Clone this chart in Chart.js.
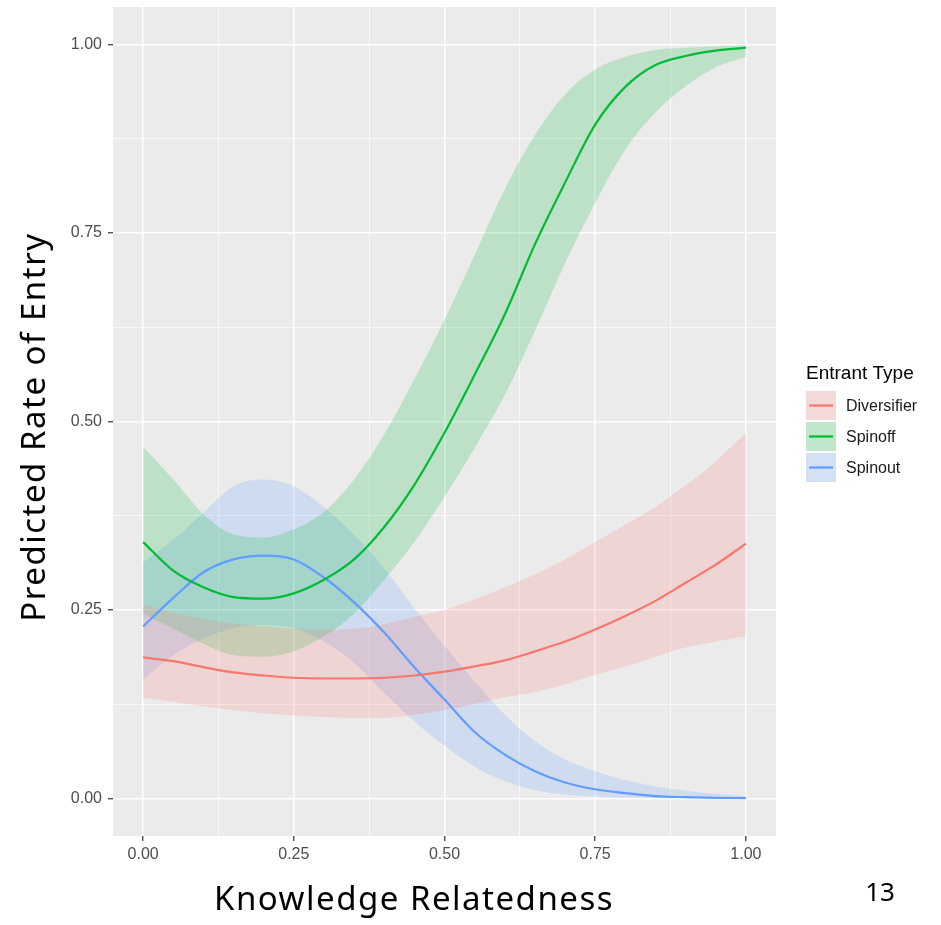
<!DOCTYPE html>
<html>
<head>
<meta charset="utf-8">
<script src="https://cdn.jsdelivr.net/npm/chart.js@4/dist/chart.umd.min.js"></script>
<style>
  html, body { margin: 0; padding: 0; background: #ffffff; }
  #wrap { width: 941px; height: 925px; position: relative; }
</style>
</head>
<body>
<div id="wrap"><canvas id="c" width="941" height="925"></canvas></div>
<script>
// ---- data ----
const relatedness = [0, 0.05, 0.1, 0.15, 0.2, 0.25, 0.3, 0.35, 0.4, 0.45, 0.5, 0.55, 0.6, 0.65, 0.7, 0.75, 0.8, 0.85, 0.9, 0.95, 1.0];

const diversifier     = [0.187,0.182,0.174,0.167,0.163,0.160,0.159,0.159,0.160,0.163,0.168,0.175,0.183,0.195,0.208,0.224,0.242,0.262,0.286,0.310,0.338];
const diversifierHigh = [0.257,0.247,0.238,0.232,0.228,0.225,0.224,0.225,0.231,0.241,0.250,0.264,0.280,0.297,0.317,0.340,0.363,0.387,0.415,0.447,0.485];
const diversifierLow  = [0.133,0.128,0.122,0.117,0.113,0.110,0.108,0.107,0.107,0.111,0.117,0.125,0.134,0.141,0.151,0.164,0.175,0.188,0.200,0.208,0.215];

const spinoff     = [0.340,0.302,0.280,0.267,0.265,0.272,0.290,0.317,0.360,0.416,0.485,0.562,0.642,0.735,0.817,0.894,0.944,0.973,0.985,0.992,0.996];
const spinoffHigh = [0.466,0.423,0.377,0.350,0.346,0.357,0.380,0.423,0.483,0.556,0.635,0.721,0.808,0.880,0.934,0.967,0.984,0.993,0.996,0.998,0.999];
const spinoffLow  = [0.245,0.225,0.205,0.190,0.188,0.195,0.215,0.245,0.290,0.340,0.400,0.465,0.535,0.620,0.710,0.790,0.861,0.910,0.945,0.970,0.984];

const spinout     = [0.228,0.266,0.300,0.317,0.322,0.317,0.293,0.260,0.220,0.174,0.131,0.088,0.058,0.036,0.021,0.012,0.007,0.003,0.0015,0.0007,0.0003];
const spinoutHigh = [0.313,0.343,0.379,0.414,0.423,0.414,0.386,0.350,0.305,0.252,0.202,0.155,0.111,0.076,0.052,0.036,0.024,0.016,0.010,0.006,0.003];
const spinoutLow  = [0.158,0.190,0.212,0.226,0.230,0.226,0.208,0.180,0.140,0.102,0.070,0.042,0.023,0.011,0.005,0.0025,0.001,0.0005,0.0002,0.0001,0.00005];

const tickValues = [0, 0.125, 0.25, 0.375, 0.5, 0.625, 0.75, 0.875, 1.0];
const majorTicks = [0, 0.25, 0.5, 0.75, 1.0];
const tickLabels = ['0.00', '0.25', '0.50', '0.75', '1.00'];

const seriesNames = ['Diversifier', 'Spinoff', 'Spinout'];
const seriesColors = ['#F8766D', '#00BA38', '#619CFF'];
const bandColors = ['rgba(248,118,109,0.2)', 'rgba(0,186,56,0.2)', 'rgba(97,156,255,0.2)'];

const legendTitle = 'Entrant Type';
const xTitle = 'Knowledge Relatedness';
const yTitle = 'Predicted Rate of Entry';
const pageNumber = '13';

// ---- build datasets ----
function pts(arr) { return relatedness.map((x, i) => ({ x: x, y: arr[i] })); }
const means = [diversifier, spinoff, spinout];
const highs = [diversifierHigh, spinoffHigh, spinoutHigh];
const lows = [diversifierLow, spinoffLow, spinoutLow];

const datasets = [];
for (let s = 0; s < 3; s++) {
  datasets.push({ label: seriesNames[s] + ' high', data: pts(highs[s]), borderWidth: 0, pointRadius: 0,
    backgroundColor: bandColors[s], borderColor: 'rgba(0,0,0,0)', fill: '+1', cubicInterpolationMode: 'monotone' });
  datasets.push({ label: seriesNames[s] + ' low', data: pts(lows[s]), borderWidth: 0, pointRadius: 0,
    borderColor: 'rgba(0,0,0,0)', fill: false, cubicInterpolationMode: 'monotone' });
}
for (let s = 0; s < 3; s++) {
  datasets.push({ label: seriesNames[s], data: pts(means[s]), borderWidth: 2.2, pointRadius: 0,
    borderColor: seriesColors[s], fill: false, cubicInterpolationMode: 'monotone' });
}

const isMajor = v => majorTicks.some(m => Math.abs(m - v) < 1e-9);
const labelFor = v => { const i = majorTicks.findIndex(m => Math.abs(m - v) < 1e-9); return i >= 0 ? tickLabels[i] : ''; };

const panelPlugin = {
  id: 'panel',
  beforeDraw(chart) {
    const a = chart.chartArea, ctx = chart.ctx;
    ctx.save();
    ctx.fillStyle = '#EBEBEB';
    ctx.fillRect(a.left, a.top, a.right - a.left, a.bottom - a.top);
    ctx.restore();
  },
  afterDraw(chart) {
    const ctx = chart.ctx;
    ctx.save();
    // axis titles
    ctx.fillStyle = '#000';
    ctx.font = '33px "Noto Sans"';
    try { ctx.letterSpacing = '1.5px'; } catch (e) {}
    ctx.textBaseline = 'alphabetic';
    ctx.textAlign = 'center';
    ctx.fillText(xTitle, 414, 910);
    ctx.save();
    ctx.translate(45, 427);
    ctx.rotate(-Math.PI / 2);
    ctx.fillText(yTitle, 0, 0);
    ctx.restore();
    try { ctx.letterSpacing = '0px'; } catch (e) {}
    ctx.font = '26px "Noto Sans"';
    ctx.fillText(pageNumber, 880, 901);
    // legend
    ctx.textAlign = 'left';
    ctx.textBaseline = 'middle';
    ctx.font = '19px "Liberation Sans"';
    ctx.fillStyle = '#000';
    ctx.fillText(legendTitle, 806, 374);
    ctx.font = '16px "Liberation Sans"';
    for (let s = 0; s < 3; s++) {
      const top = 391 + s * 31, h = 29;
      ctx.fillStyle = '#F2F2F2';
      ctx.fillRect(806, top, 30, h);
      ctx.fillStyle = bandColors[s];
      ctx.fillRect(806, top, 30, h);
      ctx.strokeStyle = seriesColors[s];
      ctx.lineWidth = 2.2;
      ctx.beginPath();
      ctx.moveTo(809, top + h / 2);
      ctx.lineTo(833, top + h / 2);
      ctx.stroke();
      ctx.fillStyle = '#1a1a1a';
      ctx.fillText(seriesNames[s], 846, top + h / 2 + 1);
    }
    ctx.restore();
  }
};

const gridOpts = {
  color: '#FFFFFF',
  lineWidth: c => (c.tick && isMajor(c.tick.value)) ? 1.5 : 0.7,
  tickColor: c => (c.tick && isMajor(c.tick.value)) ? '#333333' : 'rgba(0,0,0,0)',
  tickLength: 5,
  tickWidth: 1.2,
  drawTicks: true,
  drawOnChartArea: true
};

new Chart(document.getElementById('c'), {
  type: 'line',
  data: { datasets: datasets },
  plugins: [panelPlugin],
  options: {
    responsive: false,
    animation: false,
    layout: { padding: { top: 7, right: 165, bottom: 0, left: 0 } },
    plugins: {
      legend: { display: false },
      tooltip: { enabled: false },
      filler: { drawTime: 'beforeDatasetsDraw', propagate: false }
    },
    scales: {
      x: {
        type: 'linear', min: -0.05, max: 1.05,
        afterBuildTicks: sc => { sc.ticks = tickValues.map(v => ({ value: v })); },
        afterFit: sc => { sc.height = 89; sc.paddingLeft = 0; sc.paddingRight = 0; },
        grid: gridOpts,
        border: { display: false },
        ticks: { autoSkip: false, maxRotation: 0, padding: 4, color: '#4D4D4D',
          font: { family: '"Liberation Sans"', size: 16 }, callback: v => labelFor(v) }
      },
      y: {
        type: 'linear', min: -0.05, max: 1.05,
        afterBuildTicks: sc => { sc.ticks = tickValues.map(v => ({ value: v })); },
        afterFit: sc => { sc.width = 113; sc.paddingTop = 0; sc.paddingBottom = 0; },
        grid: gridOpts,
        border: { display: false },
        ticks: { autoSkip: false, padding: 6, color: '#4D4D4D',
          font: { family: '"Liberation Sans"', size: 16 }, callback: v => labelFor(v) }
      }
    }
  }
});
</script>
</body>
</html>
